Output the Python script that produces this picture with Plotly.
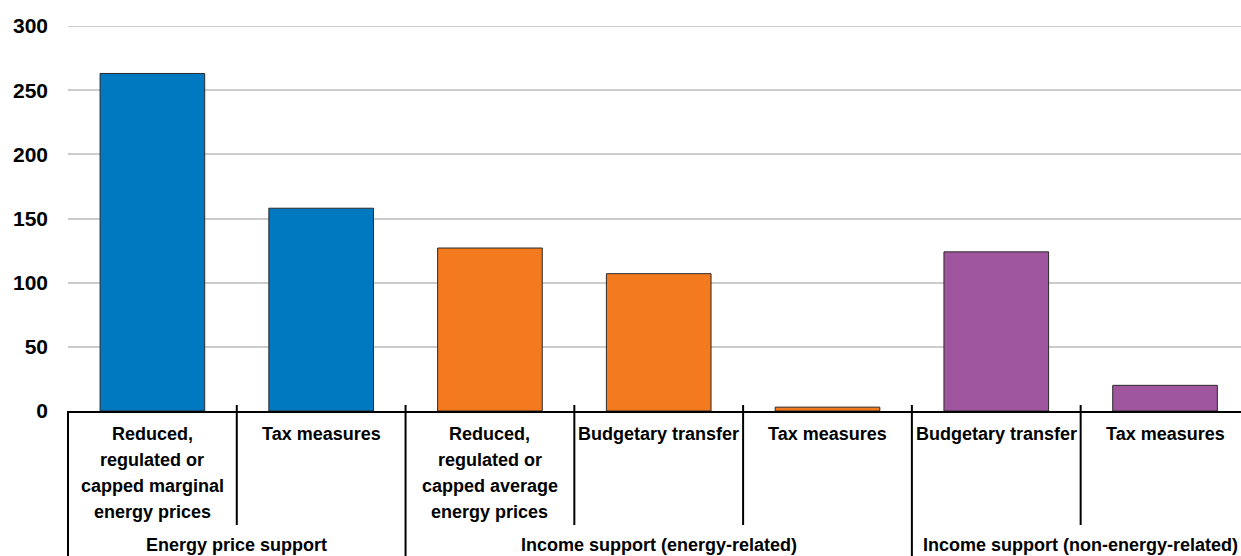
import plotly.graph_objects as go

categories = [
    "Reduced,|regulated or|capped marginal|energy prices",
    "Tax measures",
    "Reduced,|regulated or|capped average|energy prices",
    "Budgetary transfer",
    "Tax measures",
    "Budgetary transfer",
    "Tax measures",
]
values = [263, 158, 127, 107, 3, 124, 20]
group_names = ["Energy price support", "Income support (energy-related)", "Income support (non-energy-related)"]
group_sizes = [2, 3, 2]
group_colors = ["#0079C1", "#F47A20", "#A0559F"]
y_ticks = [0, 50, 100, 150, 200, 250, 300]

FONT = "Liberation Sans, Arial, sans-serif"
W, H = 1241, 556
ML, MR, MT, MB = 68, 0, 26, 145
xmin, xmax = -0.5, 6.45
plot_h = H - MT - MB

bar_colors = []
for c, n in zip(group_colors, group_sizes):
    bar_colors += [c] * n

xs = list(range(len(values)))
fig = go.Figure()
fig.add_trace(go.Bar(
    x=xs, y=values, width=0.62,
    marker=dict(color=bar_colors, line=dict(color="#2a2a2a", width=1)),
    hoverinfo="skip",
))

def px_to_paper_y(py):
    return -(py - (H - MB)) / plot_h

def xpaper(v):
    return (v - xmin) / (xmax - xmin)

shapes = []
annotations = []
# top gridline at the axis maximum (plotly skips the edge gridline)
shapes.append(dict(type="line", xref="paper", yref="y", x0=0, x1=1,
                   y0=y_ticks[-1], y1=y_ticks[-1], layer="below",
                   line=dict(color="#cccccc", width=2)))
group_bounds = [-0.5]
s = 0
for n in group_sizes:
    s += n
    group_bounds.append(s - 0.5)
for b in [i - 0.5 for i in range(len(values) + 1)]:
    if b > xmax:
        continue
    full = b in group_bounds
    y0 = 6 / plot_h if b > -0.5 else 0
    y1 = px_to_paper_y(600 if full else 525)
    shapes.append(dict(type="line", xref="paper", yref="paper",
                       x0=xpaper(b), x1=xpaper(b), y0=y0, y1=y1,
                       line=dict(color="#000000", width=2)))

LINE_Y0, LINE_DY = 434, 26
for i, c in enumerate(categories):
    for k, line in enumerate(c.split("|")):
        annotations.append(dict(x=i, xref="x", y=px_to_paper_y(LINE_Y0 + k * LINE_DY), yref="paper",
                                text=line, showarrow=False, yanchor="middle", xanchor="center",
                                font=dict(family=FONT, size=18, color="#000", weight="bold")))
start = 0
for g, n in zip(group_names, group_sizes):
    center = start + (n - 1) / 2
    annotations.append(dict(x=center, xref="x", y=px_to_paper_y(545), yref="paper",
                            text=g, showarrow=False, yanchor="middle", xanchor="center",
                            font=dict(family=FONT, size=18, color="#000", weight="bold")))
    start += n

fig.update_layout(
    width=W, height=H,
    margin=dict(l=ML, r=MR, t=MT, b=MB),
    plot_bgcolor="white", paper_bgcolor="white",
    showlegend=False,
    shapes=shapes, annotations=annotations,
    xaxis=dict(range=[xmin, xmax], showticklabels=False, ticks="", showgrid=False,
               zeroline=False, showline=True, linecolor="#000", linewidth=2),
    yaxis=dict(range=[0, 300], tickvals=y_ticks, ticktext=[str(v) for v in y_ticks],
               showgrid=True, gridcolor="#cccccc", gridwidth=2, zeroline=False,
               ticks="", ticklabelstandoff=19,
               tickfont=dict(family=FONT, size=21, color="#000", weight="bold")),
    font=dict(family=FONT),
)

fig.write_html("out.html", config={"displayModeBar": False},
               post_script="document.body.style.margin='0';document.body.style.overflow='hidden';")
